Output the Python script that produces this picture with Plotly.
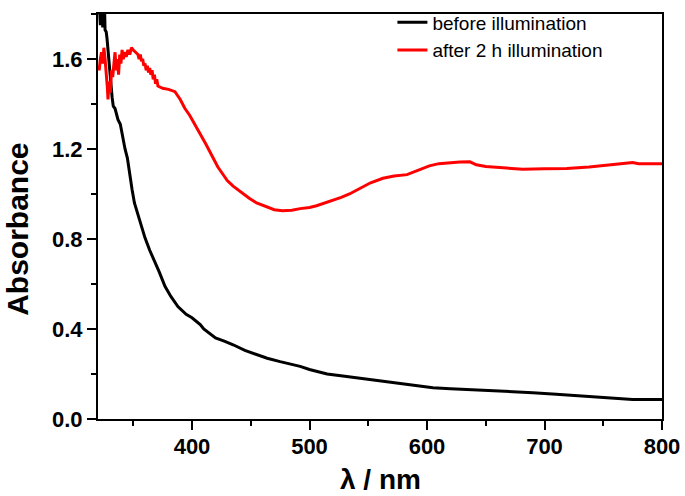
import plotly.graph_objects as go

# Wavelength (nm) and absorbance
wl_before = [321, 322, 322.5, 323, 323.5, 324, 324.5, 325, 325.5, 326, 327, 327.7, 328.5, 330, 331,
             332, 333, 334.5, 336, 337, 339, 341, 343, 345, 347, 349, 351, 354, 357, 360, 364,
             368.5, 372, 377, 382, 388, 395, 400, 402.5, 407, 410, 413.6, 420, 428, 435, 445,
             455, 464, 475, 484, 492, 500, 506, 515, 530, 549, 570, 590, 605, 620, 640, 662,
             690, 710, 730, 747, 760, 775, 790, 800]
abs_before = [1.86, 1.75, 1.95, 1.78, 1.92, 1.74, 1.90, 1.76, 1.85, 1.73, 1.72, 1.69, 1.63, 1.52, 1.49,
              1.43, 1.39, 1.38, 1.35, 1.33, 1.31, 1.25, 1.20, 1.16, 1.08, 1.02, 0.96, 0.905, 0.85, 0.805, 0.75,
              0.70, 0.655, 0.59, 0.545, 0.50, 0.465, 0.45, 0.44, 0.42, 0.40, 0.385, 0.36, 0.345, 0.33, 0.305,
              0.285, 0.27, 0.255, 0.245, 0.234, 0.22, 0.212, 0.20, 0.19, 0.177, 0.165, 0.15, 0.139, 0.135, 0.13, 0.126,
              0.117, 0.11, 0.102, 0.095, 0.09, 0.087, 0.087, 0.087]

wl_after = [320, 321, 322, 323, 324, 325, 326, 327, 328, 328.5, 329.5, 330.5, 331.5, 332.5, 333.5,
            334.5, 335.5, 336.5, 337.5, 338.5, 339.5, 340.5, 341.5, 343, 344, 345.5, 347, 348.5, 350,
            352, 354, 355, 356, 357, 358, 359, 360, 361, 362, 363, 364, 365, 366, 367, 368, 369, 370,
            371, 375, 380, 385.5, 390, 394, 398, 402.5, 407, 412, 418, 422, 426, 430, 435, 441, 449,
            455, 464, 470, 477, 485, 492, 500, 506, 513, 520, 527, 534, 543, 552, 562.5, 572, 583,
            592, 602, 610, 619.5, 628, 636.5, 642, 650, 662, 672, 681.5, 700, 719, 738, 755.6, 765,
            775, 780, 790, 798, 800]
abs_after = [1.57, 1.55, 1.60, 1.63, 1.58, 1.65, 1.60, 1.55, 1.47, 1.42, 1.50, 1.45, 1.55, 1.52, 1.60,
             1.63, 1.55, 1.60, 1.53, 1.62, 1.58, 1.64, 1.60, 1.63, 1.61, 1.64, 1.62, 1.65, 1.64,
             1.63, 1.62, 1.60, 1.62, 1.59, 1.60, 1.57, 1.58, 1.55, 1.57, 1.54, 1.56, 1.53, 1.55, 1.51, 1.53, 1.49, 1.51,
             1.48, 1.47, 1.465, 1.455, 1.42, 1.38, 1.35, 1.31, 1.27, 1.22, 1.16, 1.12, 1.09, 1.06, 1.035, 1.01, 0.98,
             0.96, 0.94, 0.93, 0.926, 0.928, 0.935, 0.94, 0.948, 0.96, 0.97, 0.985, 1.00, 1.026, 1.05, 1.07, 1.08, 1.086,
             1.105, 1.125, 1.135, 1.14, 1.142, 1.143, 1.13, 1.122, 1.117, 1.113, 1.11, 1.112, 1.113, 1.12, 1.13, 1.135,
             1.14, 1.135, 1.135, 1.134, 1.135]

x_ticks = [400, 500, 600, 700, 800]
y_ticks = [0.0, 0.4, 0.8, 1.2, 1.6]
y_tick_text = ["0.0", "0.4", "0.8", "1.2", "1.6"]
x_title = "λ / nm"
y_title = "Absorbance"

fig = go.Figure()
fig.add_trace(go.Scatter(x=wl_before, y=abs_before, mode="lines", name="before illumination",
                         line=dict(color="black", width=3)))
fig.add_trace(go.Scatter(x=wl_after, y=abs_after, mode="lines", name="after 2 h illumination",
                         line=dict(color="#ff0000", width=3)))

tickfont = dict(family="Liberation Sans, Arial, sans-serif", size=22, color="black", weight="bold")
ytitlefont = dict(family="Liberation Sans, Arial, sans-serif", size=30, color="black", weight="bold")
xtitlefont = dict(family="Liberation Sans, Arial, sans-serif", size=28, color="black", weight="bold")

fig.update_layout(
    width=685, height=496,
    margin=dict(l=98, r=23, t=3, b=77),
    paper_bgcolor="white", plot_bgcolor="white",
    showlegend=True,
    legend=dict(x=0.522, xanchor="left", y=1.026, yanchor="top",
                bgcolor="rgba(0,0,0,0)", borderwidth=0,
                font=dict(family="Liberation Sans, Arial, sans-serif", size=19, color="black"),
                tracegroupgap=0),
    xaxis=dict(range=[320, 800], tickvals=x_ticks, ticks="outside", ticklen=9, tickwidth=2,
               tickcolor="black", showline=True, linecolor="black", linewidth=2, mirror=True,
               showgrid=False, zeroline=False, tickfont=tickfont, ticklabelstandoff=-2,
               minor=dict(dtick=50, tick0=350, ticks="outside", ticklen=5, tickwidth=2, tickcolor="black", showgrid=False)),
    yaxis=dict(range=[0, 1.8], tickvals=y_ticks, ticktext=y_tick_text, ticks="outside", ticklen=9, tickwidth=2,
               tickcolor="black", showline=True, linecolor="black", linewidth=2, mirror=True,
               showgrid=False, zeroline=False, tickfont=tickfont,
               minor=dict(dtick=0.2, tick0=0.2, ticks="outside", ticklen=5, tickwidth=2, tickcolor="black", showgrid=False)),
    annotations=[
        dict(text=y_title, xref="paper", yref="paper", x=-0.144, y=0.469, xanchor="center", yanchor="middle",
             textangle=-90, showarrow=False, font=ytitlefont),
        dict(text=x_title, xref="paper", yref="paper", x=0.5, y=-0.150, xanchor="center", yanchor="middle",
             showarrow=False, font=xtitlefont),
    ],
)

fig.write_html("out.html", config={"displayModeBar": False},
               post_script="document.body.style.margin='0';")
